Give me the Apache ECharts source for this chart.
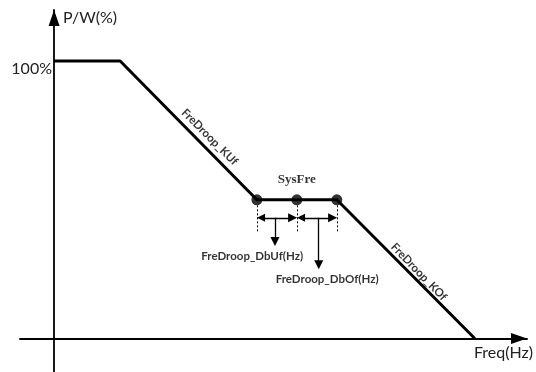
<!DOCTYPE html>
<html>
<head>
<meta charset="utf-8">
<script src="https://cdn.jsdelivr.net/npm/echarts@6/dist/echarts.min.js"></script>
<style>
  html, body { margin: 0; padding: 0; background: #fff; }
  #chart { width: 536px; height: 372px; }
</style>
</head>
<body>
<div id="chart"></div>
<script>
// Droop curve: x = frequency (schematic units), y = power in %
const curve = [[0, 100], [15.7, 100], [48.2, 50], [67.2, 50], [100, 0]];
const bandPoints = [[48.2, 50], [57.7, 50], [67.2, 50]];

// dotted guides under each dead-band point
const guideX = [48.2, 57.7, 67.2];
const guideTop = 48;
const guideBottom = 38;

// dimension arrows (double-headed) and pointer arrows (down)
const spanArrows = [[[49.2, 43.5], [56.7, 43.5]], [[58.7, 43.5], [66.2, 43.5]]];
const pointerArrows = [[[52.5, 43.5], [52.5, 35.0]], [[62.9, 43.5], [62.9, 26.6]]];

// text annotations: [x, y, text, rotate]
const notes = [
  [37.0, 72.6, 'FreDroop_KUf', -45],
  [86.7, 24.0, 'FreDroop_KOf', -46],
  [47.1, 29.8, 'FreDroop_DbUf(Hz)', 0],
  [64.9, 21.4, 'FreDroop_DbOf(Hz)', 0]
];
const sysFre = [[57.7, 57.1, 'SysFre']];

const yTicks = [100];

const chart = echarts.init(document.getElementById('chart'));

const axisStyle = { color: '#000', width: 1.8 };

chart.setOption({
  animation: false,
  backgroundColor: '#fff',
  grid: { left: 20, right: 9, top: 10, bottom: 0, outerBoundsMode: 'none', containLabel: false },
  xAxis: {
    type: 'value', min: -8.1, max: 112.4,
    axisLine: { onZero: true, lineStyle: axisStyle, symbol: ['none', 'triangle'], symbolSize: [11, 16], symbolOffset: [0, -8] },
    axisTick: { show: false }, axisLabel: { show: false }, splitLine: { show: false },
    name: 'Freq(Hz)', nameLocation: 'end', nameGap: 6,
    nameTextStyle: { fontFamily: 'Lato', fontSize: 16, color: '#222', align: 'right', verticalAlign: 'top', padding: [6, 0, 0, 0] }
  },
  yAxis: {
    type: 'value', min: -12.07, max: 118.4,
    axisLine: { onZero: true, lineStyle: axisStyle, symbol: ['none', 'triangle'], symbolSize: [11, 16], symbolOffset: [0, -8] },
    axisTick: { show: false }, splitLine: { show: false },
    // labels stay at the grid edge, so pull them back against the zero-crossing axis
    axisLabel: {
      customValues: yTicks, formatter: '{value}%', margin: -32,
      fontFamily: 'Lato', fontSize: 16, color: '#222', verticalAlign: 'top'
    },
    name: 'P/W(%)', nameLocation: 'end', nameGap: -8,
    nameTextStyle: { fontFamily: 'Lato', fontSize: 16, color: '#222', align: 'left', verticalAlign: 'middle', padding: [0, 0, 0, 9] }
  },
  series: [
    {
      type: 'line', data: curve, symbol: 'none',
      lineStyle: { color: '#000', width: 3 }, z: 3
    },
    {
      type: 'scatter', data: bandPoints, symbolSize: 11,
      itemStyle: { color: '#000' }, z: 4
    },
    {
      type: 'lines', coordinateSystem: 'cartesian2d',
      data: guideX.map(x => ({ coords: [[x, guideTop], [x, guideBottom]] })),
      lineStyle: { color: '#000', width: 1, type: [2, 2], opacity: 1 },
      symbol: 'none'
    },
    {
      type: 'lines', coordinateSystem: 'cartesian2d',
      data: spanArrows.map(c => ({ coords: c })),
      lineStyle: { color: '#000', width: 1.3, opacity: 1 },
      symbol: ['triangle', 'triangle'], symbolSize: [8, 9]
    },
    {
      type: 'lines', coordinateSystem: 'cartesian2d',
      data: pointerArrows.map(c => ({ coords: c })),
      lineStyle: { color: '#000', width: 1.3, opacity: 1 },
      symbol: ['none', 'triangle'], symbolSize: [8, 9]
    },
    {
      type: 'scatter', symbolSize: 0, silent: true,
      data: notes.map(n => ({ value: n, label: { rotate: n[3] } })),
      label: {
        show: true, position: 'inside', color: '#000',
        fontFamily: 'Lato', fontWeight: 'bold', fontSize: 11.5,
        formatter: p => p.value[2]
      },
      z: 5
    },
    {
      type: 'scatter', data: sysFre, symbolSize: 0, silent: true,
      label: {
        show: true, position: 'inside', color: '#000',
        fontFamily: 'Liberation Serif', fontWeight: 'bold', fontSize: 13,
        formatter: p => p.value[2]
      },
      z: 5
    }
  ]
});
</script>
</body>
</html>
